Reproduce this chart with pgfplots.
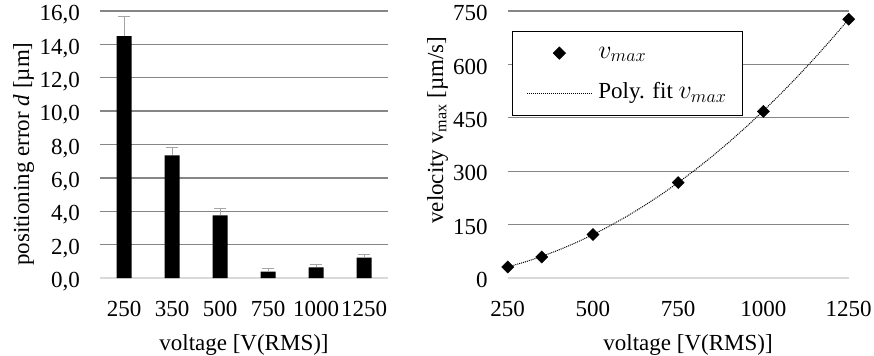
\RequirePackage{fix-cm}
\documentclass[border=0pt]{standalone}
\usepackage{fontspec}
\setmainfont{Liberation Serif}
\usepackage{pgfplots}
\pgfplotsset{compat=1.18}
\definecolor{gridgray}{RGB}{134,134,134}
\definecolor{basegray}{RGB}{217,217,217}
\definecolor{errgray}{RGB}{165,165,165}
\pgfplotsset{
  scatleg/.style={legend image code/.code={\draw[mark repeat=2, mark phase=2, ##1] plot coordinates {(0bp,0bp) (32.5bp,0bp) (65bp,0bp)};}},
  lineleg/.style={legend image code/.code={\draw[##1] (0bp,0bp) -- (65bp,0bp);}},
  common/.style={
    scale only axis, anchor=south west, height=267bp,
    axis lines*=left,
    y axis line style={draw=none},
    x axis line style={draw=basegray, line width=1.3bp},
    tick style={draw=none}, major tick length=0pt,
    ymajorgrids, grid style={draw=gridgray, line width=1.3bp},
    xticklabel style={anchor=base, inner sep=0pt, yshift=-38bp},
    yticklabel style={anchor=base east, inner sep=0pt, xshift=-20bp, yshift=-9.7bp},
    xlabel style={anchor=base, inner sep=0pt},
    ylabel style={anchor=base, inner sep=0pt, rotate=0},
    enlargelimits=false, clip=false,
    /pgf/number format/assume math mode=true,
  },
}
\newcommand{\vmax}{{\fontsize{26bp}{28bp}\selectfont$v_{max}$}}
\begin{document}
\fontsize{23bp}{27bp}\selectfont
\begin{tikzpicture}
\useasboundingbox (0,0) rectangle (874bp,356bp);
\begin{axis}[common,
  at={(100bp,78bp)}, width=288bp,
  xmin=-0.5, xmax=5.5, ymin=0, ymax=16,
  xtick={0,1,2,3,4,5}, xticklabels={250,350,500,750,1000,1250},
  ytick={0,2,...,16},
  yticklabel style={/pgf/number format/fixed, /pgf/number format/fixed zerofill, /pgf/number format/precision=1, /pgf/number format/use comma},
  xlabel={voltage [V(RMS)]},
  ylabel={positioning error \textit{d} [µm]},
  xlabel style={at={(axis description cs:0.5,-0.2715)}},
  ylabel style={at={(axis description cs:-0.2465,0.464)}},
]
\addplot[ybar, bar width=15bp, fill=black, draw=none,
  error bars/.cd, y dir=plus, y explicit,
  error bar style={draw=errgray, line width=1bp},
  error mark options={rotate=90, mark size=6bp, draw=errgray, line width=1bp}]
coordinates {
  (0,14.5) +- (0,1.2)
  (1,7.35) +- (0,0.45)
  (2,3.75) +- (0,0.4)
  (3,0.38) +- (0,0.18)
  (4,0.64) +- (0,0.14)
  (5,1.22) +- (0,0.18)
};
\end{axis}
\begin{axis}[common,
  at={(507.7bp,78bp)}, width=341bp,
  xmin=250, xmax=1250, ymin=0, ymax=750,
  xtick={250,500,750,1000,1250}, ytick={0,150,...,750},
  /pgf/number format/set thousands separator={},
  xlabel={voltage [V(RMS)]},
  ylabel={velocity v\textsubscript{max} [µm/s]},
  xlabel style={at={(axis description cs:0.529,-0.2715)}},
  ylabel style={at={(axis description cs:-0.1897,0.554)}},
  legend style={at={(0.0126,0.926)}, anchor=north west, draw=black, line width=0.8bp,
    inner xsep=14bp, inner ysep=8.9bp, row sep=14.7bp, column sep=4bp,
    nodes={text height=16bp, text depth=6bp}},
  legend cell align=left,
]
\addplot[only marks, mark=square*, mark size=4.3bp, mark options={rotate=45, fill=black, draw=black}, scatleg]
coordinates {(250,31) (350,59) (500,122) (750,268) (1000,468) (1250,727)};
\addlegendentry{\vmax}
\addplot[black, densely dotted, line width=1bp, lineleg]
coordinates {
(250,31.0) (300,44.7) (350,60.6) (400,78.8) (450,99.2) (500,121.8)
(550,146.6) (600,173.6) (650,202.8) (700,234.3) (750,268.0) (800,303.9)
(850,342.0) (900,382.4) (950,425.0) (1000,469.8) (1050,516.8) (1100,566.0)
(1150,617.4) (1200,671.1) (1250,727.0)
};
\addlegendentry{Poly. fit \vmax}
\end{axis}
\end{tikzpicture}
\end{document}
